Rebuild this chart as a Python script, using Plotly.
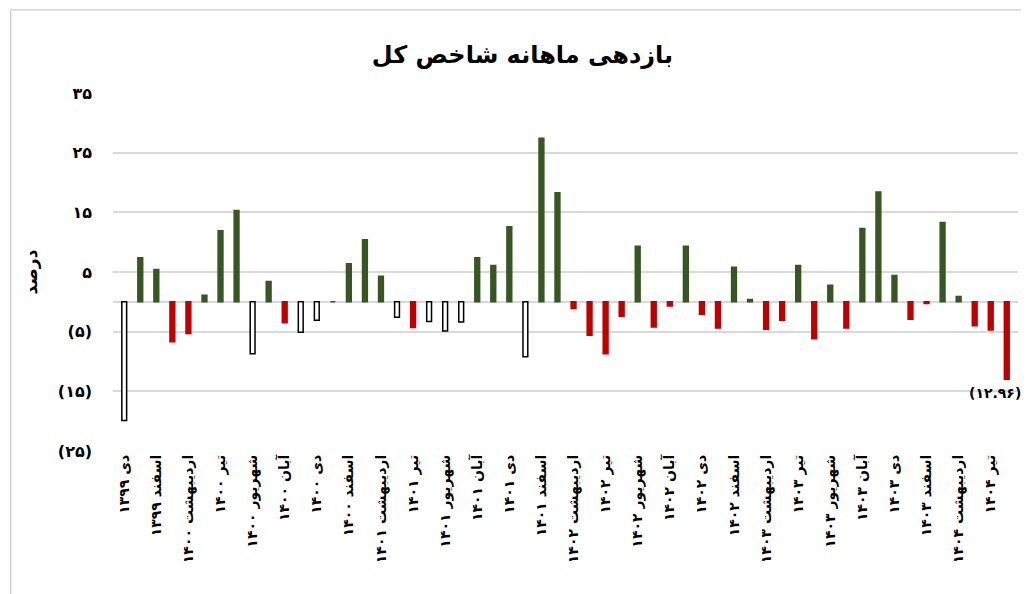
import plotly.graph_objects as go

months = ["دی", "بهمن", "اسفند", "فروردین", "اردیبهشت", "خرداد", "تیر", "مرداد",
          "شهریور", "مهر", "آبان", "آذر"]
fa = str.maketrans("0123456789", "۰۱۲۳۴۵۶۷۸۹")

# monthly returns, Dey 1399 .. Mordad 1404
returns = [-19.9, 7.4, 5.4, -6.7, -5.3, 1.1, 11.9, 15.3, -8.7, 3.4, -3.5, -5.1, -3.1, 0.0,
           6.4, 10.4, 4.3, -2.6, -4.3, -3.3, -4.9, -3.4, 7.4, 6.1, 12.6, -9.2, 27.4, 18.3,
           -1.1, -5.6, -8.7, -2.4, 9.3, -4.2, -0.7, 9.3, -2.1, -4.4, 5.8, 0.4, -4.6, -3.1,
           6.1, -6.2, 2.8, -4.4, 12.3, 18.4, 4.4, -2.9, -0.3, 13.3, 0.9, -4.0, -4.7, -12.96]
# negative bars drawn hollow (early period) vs red
hollow = [0, 8, 11, 12, 17, 19, 20, 21, 25]

labels = []
y, m = 1399, 0
for _ in returns:
    labels.append(f"{months[m]} {str(y).translate(fa)}")
    m += 1
    if months[m % 12] == "فروردین":
        y += 1
    m %= 12

fill, line = [], []
for i, v in enumerate(returns):
    if i in hollow:
        fill.append("white"); line.append("black")
    elif v < 0:
        fill.append("#c00000"); line.append("#c00000")
    else:
        fill.append("#375623"); line.append("#375623")

x = list(range(len(returns)))
fig = go.Figure(go.Bar(x=x, y=returns, marker=dict(color=fill, line=dict(color=line, width=1.5)),
                       hoverinfo="y"))

yt = [35, 25, 15, 5, -5, -15, -25]
fig.update_yaxes(range=[-25, 35], tickvals=yt,
                 ticktext=[f"<b>{str(v).translate(fa)}</b>" if v > 0 else f"<b>({str(-v).translate(fa)})</b>" for v in yt],
                 gridcolor="#d9d9d9", gridwidth=2, zeroline=True, zerolinecolor="#d9d9d9",
                 zerolinewidth=2, ticks="", tickfont=dict(size=16, color="black"),
                 title=dict(text="<b>درصد</b>", font=dict(size=17, color="black")), ticklabelstandoff=20)
fig.update_xaxes(tickvals=x[::2], ticktext=[f"<b>{t}</b>" for t in labels[::2]], tickangle=-90,
                 range=[-0.7, len(x) - 0.3], tickfont=dict(size=14, color="black"), showgrid=False)

fig.add_annotation(x=x[-1], y=returns[-1], text="<b>(" + "12.96".translate(fa) + ")</b>",
                   showarrow=False, yshift=-14, xshift=-12,
                   font=dict(size=14, color="black"))

fig.update_layout(
    width=1029, height=594,
    font=dict(family="DejaVu Sans", color="black"),
    title=dict(text="<b>بازدهی ماهانه شاخص کل</b>", x=0.5, y=0.935, font=dict(size=24)),
    plot_bgcolor="white", paper_bgcolor="white",
    bargap=0.7, showlegend=False,
    margin=dict(l=105, r=19, t=85, b=151),
    shapes=[dict(type="rect", xref="paper", yref="paper", x0=-0.113, x1=1.019, y0=-0.413, y1=1.232,
                 line=dict(color="#bfbfbf", width=1))],
)

fig.write_html("out.html")
